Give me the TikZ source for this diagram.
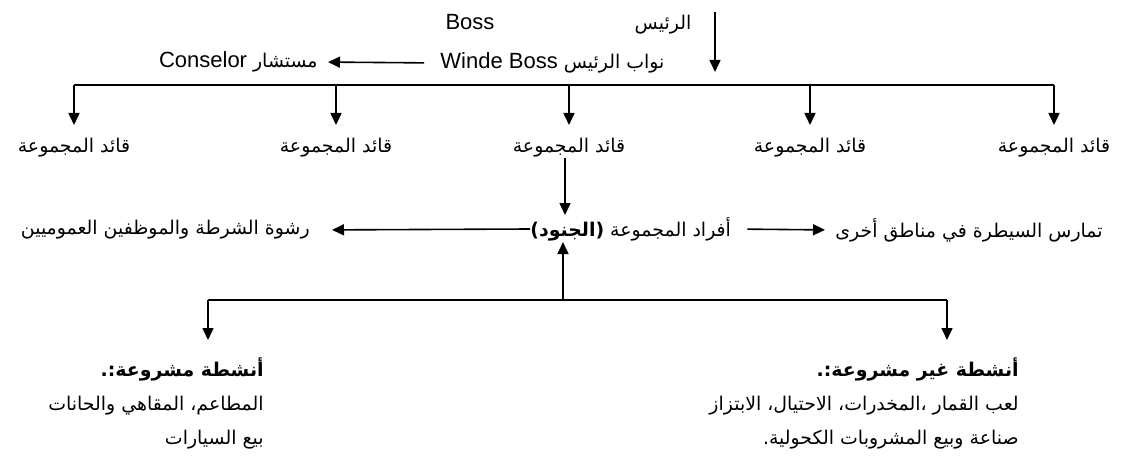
\documentclass[tikz,border=0pt]{standalone}
\usepackage{fontspec}
\setmainfont{Liberation Sans}
\newfontfamily\arabicfont[Script=Arabic,Scale=0.86]{DejaVu Sans}
\usetikzlibrary{arrows.meta}
\TeXXeTstate=1
\newcommand{\arabtext}[1]{{\arabicfont\beginR #1\endR}}

\begin{document}
\begin{tikzpicture}[x=0.5pt,y=-0.5pt,font=\fontsize{11}{17}\selectfont]
\tikzstyle{arr}=[-{Triangle[length=6pt,width=5.5pt]},line width=0.8pt]
\tikzstyle{bus}=[line width=0.8pt]
\tikzstyle{txt}=[inner sep=0pt]

\useasboundingbox (0,0) rectangle (1125,460);

% boss and his deputies
\node(boss)[txt] at (470,22) {Boss};
\node(rais)[txt] at (663,25) {\arabtext{الرئيس}};
\node(vice)[txt,anchor=west] at (440,63)
    {\arabtext{نواب الرئيس {\rmfamily\beginL Winde Boss\endL}}};
\node(counsel)[txt,anchor=east] at (318,62)
    {\arabtext{مستشار {\rmfamily\beginL Conselor\endL}}};
\coordinate(t1) at (715,12);
\coordinate(t2) at (715,72);
\draw[arr] (t1) -- (t2);
\draw[arr,shorten <=8pt,shorten >=5pt] (vice.west) -- (counsel.east);

% group leaders
\coordinate(b) at (0,85);
\coordinate(e) at (0,125);
\foreach \x/\n in {74/1,336/2,569/3,810/4,1054/5}{
    \node(l\n)[txt] at (\x,148) {\arabtext{قائد المجموعة}};
}
\draw[bus] (l1|-b) -- (l5|-b);
\foreach \n in {1,...,5}
    \draw[arr] (l\n|-b) -- (l\n|-e);

% members of the group
\node(members)[txt,anchor=west] at (530,229)
    {\arabtext{أفراد المجموعة \textbf{(الجنود)}}};
\node(bribe)[txt,anchor=east] at (310,230)
    {\arabtext{رشوة الشرطة والموظفين العموميين}};
\node(control)[txt,anchor=west] at (835,230)
    {\arabtext{تمارس السيطرة في مناطق أخرى}};
\coordinate(m1) at (565,158);
\coordinate(m2) at (565,215);
\draw[arr] (m1) -- (m2);
\draw[arr,shorten >=11pt] (members.west) -- (bribe.east);
\draw[arr,shorten <=8pt,shorten >=5pt] (members.east) -- (control.west);

% activities
\node(legal)[txt,anchor=north east,align=right] at (264,357)
    {\arabtext{\textbf{أنشطة مشروعة:.}}\\
     \arabtext{المطاعم، المقاهي والحانات}\\
     \arabtext{بيع السيارات}};
\node(illegal)[txt,anchor=north east,align=right] at (1019,357)
    {\arabtext{\textbf{أنشطة غير مشروعة:.}}\\
     \arabtext{لعب القمار ،المخدرات، الاحتيال، الابتزاز}\\
     \arabtext{صناعة وبيع المشروبات الكحولية.}};
\coordinate(u1) at (563,300);
\coordinate(u2) at (563,242);
\coordinate(d1) at (208,300);
\coordinate(d2) at (947,300);
\coordinate(f) at (0,340);
\draw[arr] (u1) -- (u2);
\draw[bus] (d1) -- (d2);
\draw[arr] (d1) -- (d1|-f);
\draw[arr] (d2) -- (d2|-f);

\end{tikzpicture}
\end{document}
